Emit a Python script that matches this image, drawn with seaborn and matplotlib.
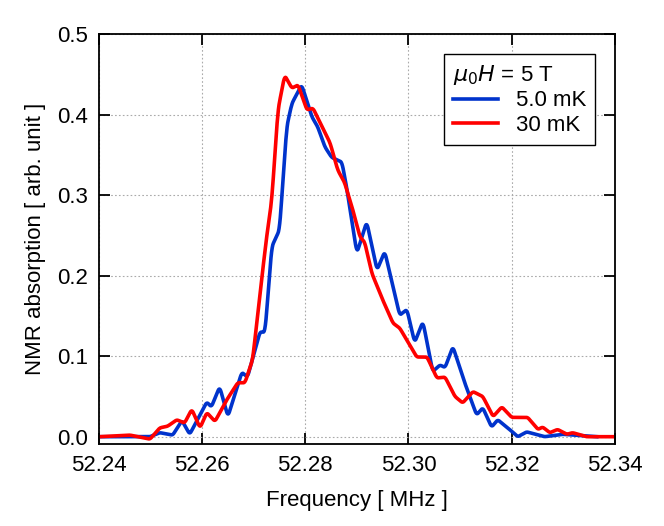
import numpy as np
import pandas as pd
import seaborn as sns
import matplotlib
matplotlib.use("Agg")
import matplotlib.pyplot as plt

freq_5mK = [52.2402, 52.2499, 52.2518, 52.2543, 52.2561, 52.2576, 52.2609, 52.2618, 52.2634, 52.2650, 52.2677,
            52.2688, 52.2712, 52.2722, 52.2735, 52.2750, 52.2764, 52.2774, 52.2793, 52.2813, 52.2824, 52.2838,
            52.2851, 52.2871, 52.2880, 52.2900, 52.2919, 52.2939, 52.2954, 52.2983, 52.2997, 52.3012, 52.3028,
            52.3047, 52.3061, 52.3071, 52.3086, 52.3109, 52.3132, 52.3144, 52.3161, 52.3173, 52.3196, 52.3212,
            52.3229, 52.3264, 52.3299, 52.3365]
abs_5mK = [0.0, 0.0, 0.005, 0.002, 0.02, 0.003, 0.043, 0.037, 0.062, 0.025, 0.08,
           0.074, 0.13, 0.13, 0.236, 0.257, 0.385, 0.414, 0.437, 0.397, 0.385, 0.36,
           0.347, 0.341, 0.31, 0.228, 0.267, 0.207, 0.23, 0.151, 0.158, 0.117, 0.143,
           0.081, 0.089, 0.086, 0.112, 0.067, 0.027, 0.036, 0.012, 0.021, 0.009, 0.0,
           0.006, 0.0, 0.003, 0.0]

freq_30mK = [52.2402, 52.2460, 52.2499, 52.2518, 52.2533, 52.2551, 52.2566, 52.2580, 52.2596, 52.2609, 52.2625,
             52.2648, 52.2669, 52.2683, 52.2698, 52.2716, 52.2725, 52.2735, 52.2747, 52.2760, 52.2774, 52.2786,
             52.2803, 52.2815, 52.2834, 52.2848, 52.2863, 52.2876, 52.2892, 52.2906, 52.2915, 52.2929, 52.2950,
             52.2970, 52.2983, 52.3016, 52.3036, 52.3055, 52.3071, 52.3090, 52.3105, 52.3125, 52.3144, 52.3164,
             52.3181, 52.3200, 52.3231, 52.3251, 52.3260, 52.3274, 52.3289, 52.3307, 52.3318, 52.3345, 52.3396]
abs_30mK = [0.0, 0.002, -0.003, 0.011, 0.013, 0.021, 0.017, 0.034, 0.011, 0.03, 0.019,
            0.046, 0.067, 0.067, 0.096, 0.199, 0.248, 0.294, 0.406, 0.449, 0.433, 0.437,
            0.406, 0.408, 0.383, 0.365, 0.331, 0.316, 0.282, 0.248, 0.242, 0.203, 0.17,
            0.141, 0.135, 0.099, 0.099, 0.073, 0.074, 0.05, 0.042, 0.056, 0.05, 0.025,
            0.037, 0.024, 0.024, 0.009, 0.012, 0.005, 0.009, 0.003, 0.005, 0.0, 0.0]

labels = ["5.0 mK", "30 mK"]
colors = ["#0033cc", "#ff0000"]

def smooth(x, y):
    xs = np.linspace(min(x), max(x), 800)
    ys = np.interp(xs, x, y)
    k = np.ones(5) / 5
    yp = np.convolve(np.pad(ys, 2, mode="edge"), k, mode="valid")
    return xs, yp

frames = []
for lab, f, a in [(labels[0], freq_5mK, abs_5mK), (labels[1], freq_30mK, abs_30mK)]:
    xs, ys = smooth(f, a)
    frames.append(pd.DataFrame({"f": xs, "a": ys, "T": lab}))
df = pd.concat(frames)

plt.rcParams["font.family"] = "Liberation Sans"
fig = plt.figure(figsize=(6.64, 5.26), dpi=100)
ax = fig.add_axes([0.149, 0.156, 0.777, 0.779])
sns.lineplot(data=df, x="f", y="a", hue="T", palette=colors, linewidth=2.6, ax=ax, sort=False,
             estimator=None)
ax.set_xlim(52.24, 52.34)
ax.set_ylim(-0.009, 0.5)
ax.set_xticks([52.24, 52.26, 52.28, 52.30, 52.32, 52.34])
ax.set_xticklabels(["52.24", "52.26", "52.28", "52.30", "52.32", "52.34"])
ax.set_yticks([0.0, 0.1, 0.2, 0.3, 0.4, 0.5])
ax.set_yticklabels(["0.0", "0.1", "0.2", "0.3", "0.4", "0.5"])
ax.grid(True, linestyle=(0, (1.5, 2)), color="#aaaaaa", linewidth=0.8)
ax.tick_params(direction="in", length=8, width=1.3, top=True, right=True, labelsize=16, pad=8)
for s in ax.spines.values():
    s.set_linewidth(1.3)
ax.set_xlabel("Frequency [ MHz ]", fontsize=16, labelpad=10)
ax.set_ylabel("NMR absorption [ arb. unit ]", fontsize=16, labelpad=8)
leg = ax.legend(title="$\\mu_0H$ = 5 T", loc="upper right", fontsize=16, title_fontsize=16,
                fancybox=False, edgecolor="black", framealpha=1, handlelength=2.0,
                borderaxespad=0.9, alignment="left", labelspacing=0.15, borderpad=0.4)
leg.get_frame().set_linewidth(1.0)
fig.savefig("out.png", dpi=100)
